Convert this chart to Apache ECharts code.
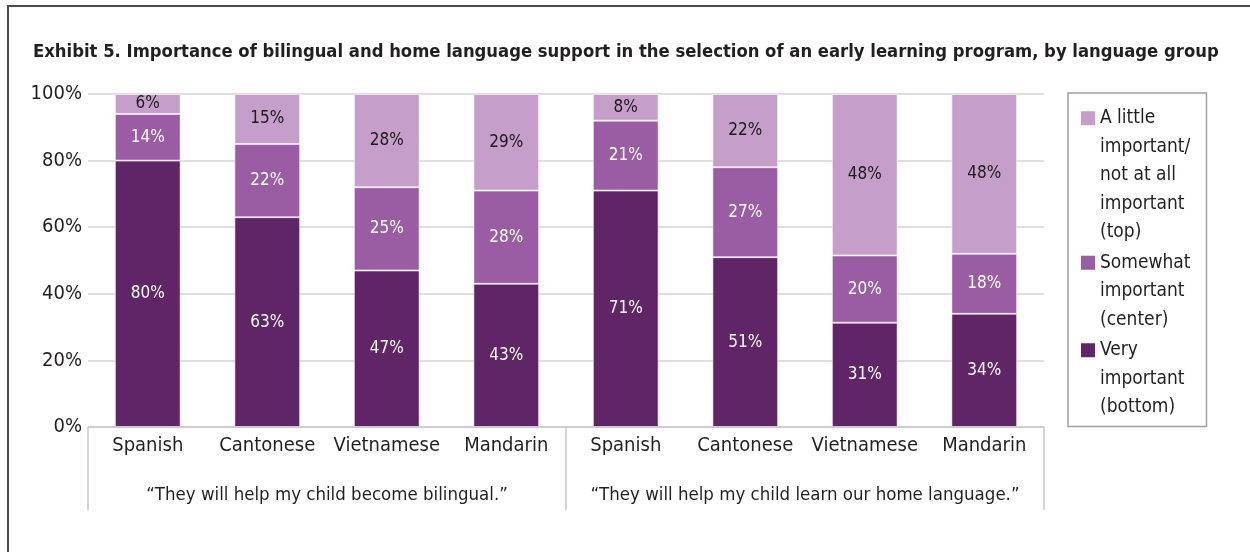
<!DOCTYPE html>
<html>
<head>
<meta charset="utf-8">
<script src="https://cdn.jsdelivr.net/npm/echarts@6/dist/echarts.min.js"></script>
<style>
html,body{margin:0;padding:0;background:#fff;}
#chart{width:1250px;height:552px;}
</style>
</head>
<body>
<div id="chart"></div>
<script>
const titleText = 'Exhibit 5. Importance of bilingual and home language support in the selection of an early learning program, by language group';
const categories = ['Spanish', 'Cantonese', 'Vietnamese', 'Mandarin', 'Spanish', 'Cantonese', 'Vietnamese', 'Mandarin'];
const groups = ['\u201CThey will help my child become bilingual.\u201D', '\u201CThey will help my child learn our home language.\u201D'];
const veryImportant = [80, 63, 47, 43, 71, 51, 31, 34];
const somewhatImportant = [14, 22, 25, 28, 21, 27, 20, 18];
const littleImportant = [6, 15, 28, 29, 8, 22, 48, 48];
const seriesNames = ['Very\nimportant\n(bottom)', 'Somewhat\nimportant\n(center)', 'A little\nimportant/\nnot at all\nimportant\n(top)'];
const yTicks = [0, 20, 40, 60, 80, 100];

const FONT = '"Liberation Sans Narrow", "DejaVu Sans Condensed", sans-serif';
const colors = ['#5f2566', '#9a5ca3', '#c59fca'];
const labelColors = ['#ffffff', '#ffffff', '#1a1a1a'];

const raw = [veryImportant, somewhatImportant, littleImportant];
const totals = categories.map((c, i) => raw.reduce((s, arr) => s + arr[i], 0));

const series = raw.map((arr, k) => ({
  name: seriesNames[k],
  type: 'bar',
  stack: 'total',
  barWidth: '55%',
  xAxisIndex: 0,
  itemStyle: { color: colors[k], borderColor: 'rgba(255,255,255,0.55)', borderWidth: 1 },
  label: {
    show: true,
    position: 'inside',
    color: labelColors[k],
    fontFamily: FONT,
    fontSize: 17,
    formatter: p => arr[p.dataIndex] + '%'
  },
  emphasis: { disabled: true },
  data: arr.map((v, i) => v / totals[i] * 100)
}));

const rich = {};
colors.forEach((c, k) => {
  rich['sq' + k] = { width: 14, height: 14, backgroundColor: c };
});
rich.gap = { width: 5 };
rich.ind = { width: 19 };
rich.t = { fontFamily: FONT, fontSize: 19, color: '#231f20', lineHeight: 28.5 };

function legendFormatter(name) {
  const k = seriesNames.indexOf(name);
  const lines = name.split('\n');
  return lines.map((ln, i) => (i === 0 ? '{sq' + k + '| }{gap| }' : '{ind| }') + '{t|' + ln + '}').join('\n');
}

const chart = echarts.init(document.getElementById('chart'), null, { renderer: 'canvas' });
chart.setOption({
  animation: false,
  backgroundColor: '#ffffff',
  title: {
    text: titleText,
    left: 33,
    top: 43,
    padding: 0,
    textStyle: { fontFamily: FONT, fontWeight: 'bold', fontSize: 18.3, color: '#231f20' }
  },
  graphic: [{
    type: 'polyline',
    shape: { points: [[8, 552], [8, 6], [1250, 6]] },
    style: { stroke: '#4a4a4a', lineWidth: 2, fill: null },
    silent: true
  }],
  legend: {
    orient: 'vertical',
    left: 1068,
    top: 93,
    padding: [11, 16, 5, 8],
    itemGap: 2,
    itemWidth: 0,
    itemHeight: 14,
    icon: 'none',
    selectedMode: false,
    borderColor: '#a0a0a0',
    borderWidth: 1.5,
    data: [seriesNames[2], seriesNames[1], seriesNames[0]],
    formatter: legendFormatter,
    textStyle: { fontFamily: FONT, fontSize: 19, color: '#231f20', lineHeight: 28.5, rich: rich }
  },
  grid: { left: 88, top: 94, width: 956, height: 333, containLabel: false },
  xAxis: [{
    type: 'category',
    data: categories,
    position: 'bottom',
    axisLine: { show: true, lineStyle: { color: '#c8c8c8', width: 1.5 } },
    axisTick: { show: false },
    axisLabel: { fontFamily: FONT, fontSize: 20, color: '#231f20', margin: 9, interval: 0 },
    splitLine: { show: false }
  }, {
    type: 'category',
    data: groups,
    position: 'bottom',
    axisLine: { show: false },
    axisTick: { show: true, length: 83, interval: 0, lineStyle: { color: '#c8c8c8', width: 1.5 } },
    axisLabel: { fontFamily: FONT, fontSize: 18.5, color: '#231f20', margin: 59, interval: 0 },
    splitLine: { show: false }
  }],
  yAxis: {
    type: 'value',
    min: yTicks[0],
    max: yTicks[yTicks.length - 1],
    interval: 20,
    axisLine: { show: false },
    axisTick: { show: false },
    axisLabel: { fontFamily: FONT, fontSize: 20, color: '#231f20', margin: 6, formatter: '{value}%' },
    splitLine: { show: true, lineStyle: { color: '#d4d4d4', width: 1.5 } }
  },
  series: series
});
</script>
</body>
</html>
